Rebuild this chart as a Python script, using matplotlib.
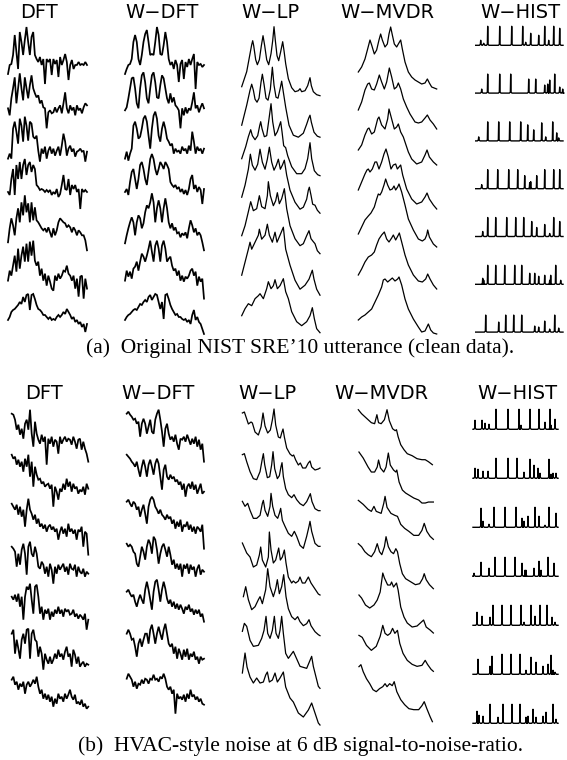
import matplotlib
matplotlib.use('Agg')
import matplotlib.pyplot as plt
import numpy as np

# ---------------- data (magnitudes in display units, one list per frame) ----------------
titles = ['DFT', 'W\u2212DFT', 'W\u2212LP', 'W\u2212MVDR', 'W\u2212HIST']
caption_a = '(a)  Original NIST SRE\u201910 utterance (clean data).'
caption_b = '(b)  HVAC-style noise at 6 dB signal-to-noise-ratio.'

# panel (a) DFT, uniformly sampled spectra
a_dft = [
    [3,12,13,22,42,25,8,45,35,22,37,50,35,22,40,45,22,18,15,20,12,18,-7,18,15,18,2,18,13,17,0,20,12,17,23,15,-3,12,17,8,12,12,15,12,13,12,15,12],
    [13,6,23,33,44,18,33,48,33,21,44,33,23,36,46,33,28,24,26,18,21,14,13,-7,9,11,8,9,14,9,13,16,8,18,29,13,8,16,11,14,6,16,11,13,8,14,18,16],
    [7,12,7,37,44,34,22,47,40,24,49,40,25,44,42,29,27,30,15,4,17,12,19,7,15,19,12,17,10,15,19,10,20,32,24,10,17,20,14,17,9,14,15,17,14,15,4,14],
    [18,15,31,41,15,45,31,48,31,45,51,35,45,48,38,45,41,25,23,20,21,20,18,20,18,20,15,18,16,21,13,16,25,35,21,20,31,15,25,21,25,18,21,1,21,18,20,18],
    [12,26,36,29,19,36,46,32,52,39,59,42,51,32,52,34,47,34,32,29,26,24,26,22,27,22,17,26,19,24,32,36,34,32,31,27,29,27,22,27,24,19,24,22,19,19,14,4],
    [18,28,23,33,43,27,50,30,43,52,37,55,37,57,43,58,38,33,37,23,30,18,25,13,23,17,10,8,23,18,25,20,23,28,27,33,25,23,18,23,10,20,2,22,23,0,20,10],
    [23,26,31,33,34,36,38,41,39,46,41,48,49,33,48,49,44,38,34,33,31,28,28,26,24,26,23,24,23,26,28,26,28,31,29,34,31,28,24,26,21,23,19,21,16,19,11,19],
]
a_wdft = [
    [3,8,12,13,18,35,42,35,18,12,22,35,43,47,35,22,23,22,35,50,42,23,22,32,45,35,18,12,15,8,17,12,-5,13,17,-2,15,10,18,12,18,23,-12,15,12,13,10,12],
    [11,14,23,33,43,44,33,18,13,33,46,49,39,23,18,33,46,49,39,24,23,36,46,43,33,23,18,28,19,24,16,14,11,-7,13,6,14,8,13,11,19,29,13,16,9,14,18,13],
    [7,14,5,12,17,40,44,37,27,29,37,47,50,44,30,17,37,50,54,47,30,24,37,44,37,27,24,20,22,12,17,14,15,12,19,15,17,12,20,15,34,24,12,19,15,17,12,17],
    [18,21,15,28,38,41,31,21,31,45,48,41,31,25,38,51,56,51,41,35,41,48,45,41,48,45,41,28,25,23,25,21,23,18,21,16,20,15,21,31,35,21,25,18,23,20,6,21],
    [11,19,26,32,37,32,19,32,39,36,26,31,42,49,46,52,61,52,32,46,54,46,32,46,56,46,32,26,31,24,27,21,22,17,21,19,22,16,26,34,29,22,26,19,22,19,12,4],
    [18,28,22,27,20,30,32,37,28,37,45,42,37,43,50,58,47,37,53,58,50,37,53,58,50,37,40,42,33,28,30,23,28,18,23,17,22,20,23,28,30,23,27,13,22,17,20,0],
    [23,26,28,29,31,33,34,33,36,39,38,41,43,41,46,48,43,46,49,48,41,34,41,24,48,49,44,38,34,31,28,29,26,26,24,23,24,21,23,19,28,33,23,26,21,19,14,9],
]
# panel (a) W-LP and W-MVDR envelopes: (frequency index 0..47, magnitude)
a_lp = [
    [(0,2),(3,17),(5,35),(6,44),(6.6,48),(7.2,43),(8.4,29),(9.4,24),(10.6,29),(11.8,43),(12.8,53),(13.8,43),(15,29),(16.2,24),(17.6,35),(18.6,48),(19.4,62),(20.2,48),(21.2,33),(22.2,28),(23.4,37),(24.6,47),(25.4,38),(26.4,25),(28,10),(30,1),(32,-3),(34,-2),(35,0),(36,-3),(38,-2),(39.6,3),(41,11),(41.8,3),(43,-3),(45,-6),(47,-7)],
    [(0,2),(3,22),(5,37),(6,43),(7,37),(8,28),(9.2,25),(10.4,29),(11.6,45),(12.4,53),(13.4,43),(14.6,29),(15.8,27),(17.2,38),(18.4,60),(19.4,42),(20.6,30),(21.8,29),(23,38),(24,46),(25,35),(26.4,20),(28.4,2),(31,-8),(34,-10),(37,-6),(39,3),(40.2,9),(41,12),(41.8,5),(43.4,-5),(45.4,-9),(47,-10)],
    [(0,7),(2.4,19),(4,29),(5.4,36),(6.4,30),(8,26),(9.6,30),(10.8,40),(11.4,44),(12.2,37),(13.6,29),(15,30),(16.4,47),(17.6,62),(18.6,44),(20,30),(21.4,34),(22.6,40),(23.4,44),(24.2,34),(25.2,20),(26.4,18),(27.6,10),(30,-1),(33,-8),(36,-8),(38,-3),(39.6,7),(41,23),(42,7),(43.6,-5),(45.6,-9),(47,-10)],
    [(0,7),(2,19),(4,35),(5.2,50),(6.4,39),(8,34),(9.6,40),(11,55),(12.4,42),(14,35),(15.4,45),(16.6,57),(18,42),(19.4,34),(20.8,39),(22,45),(23.2,35),(24.4,39),(25.6,44),(27,29),(29,14),(32,2),(35,-5),(37,-3),(39,5),(40,14),(40.6,17),(41.6,9),(42.6,0),(44,-1),(45.4,-6),(47,-9)],
    [(0,7),(2,17),(4,31),(5.4,41),(7,32),(9,34),(10.6,47),(12,36),(14,34),(15.4,47),(16,61),(17.2,47),(19,37),(20.4,42),(21.4,50),(22.6,39),(24,44),(25.6,54),(27,34),(29,17),(32,4),(35,-3),(37,-1),(39,7),(40.4,12),(41.6,4),(43,1),(44,-1),(45.4,-8),(47,-11)],
    [(0,6),(2,19),(4,32),(5,39),(6,32),(8,39),(10,46),(10.6,52),(12,42),(14,46),(15.4,57),(16.6,46),(18.4,39),(20,49),(21.2,39),(23,46),(25,54),(26.4,32),(29,16),(32,1),(35,-8),(38,-4),(40.4,2),(42.4,11),(43.4,2),(45,-8),(47,-14)],
    [(0,4),(2,11),(4,16),(6,14),(8,21),(10,24),(11,26),(13,21),(15,31),(16,38),(17.6,31),(19,34),(20,40),(21.4,31),(23,34),(25,41),(26.4,28),(28,21),(30,8),(33,-2),(36,-6),(39,-2),(41,4),(42.4,12),(43.6,1),(45,-9),(47,-13)],
]
a_mvdr = [
    [(0,0),(2,5),(4,13),(5.6,23),(7,32),(8,27),(9.6,18),(11,22),(12.4,32),(13.4,38),(14.4,32),(16,25),(17.4,28),(18.4,38),(19.4,45),(20.4,37),(21.6,28),(23,25),(24,28),(25.4,32),(26.4,23),(28,10),(30,0),(32,-5),(34,-8),(36,-10),(38,-12),(40,-11),(41.4,-7),(42.6,-11),(44,-15),(47,-17)],
    [(0,3),(2,11),(4,23),(5.6,29),(6.6,30),(8,24),(9.6,23),(11,29),(12.6,38),(14,31),(15.6,24),(17,31),(18.6,45),(20,36),(21.6,24),(23,26),(24,30),(25.4,24),(27,14),(29,6),(31,-1),(34,-9),(36,-10),(38,-9),(40,-5),(41.4,-2),(43,-7),(45,-11),(47,-16)],
    [(0,4),(2,9),(4,19),(5.6,25),(6.4,26),(8,20),(9.6,22),(11.6,35),(12.4,37),(14,29),(16,25),(17.6,35),(18.4,45),(20,35),(21.6,25),(23,27),(24,30),(25.4,22),(27,17),(28,12),(30,2),(32,-5),(35,-10),(38,-8),(40,-1),(41.2,4),(42.6,-3),(45,-8),(47,-11)],
    [(0,5),(2,13),(4,21),(5.2,25),(6,26),(7,23),(8.4,26),(10,33),(11,33),(12.4,26),(14,33),(15.4,41),(16.6,46),(18,38),(19.6,26),(21,30),(22.4,31),(23.4,26),(24.4,28),(25.4,30),(26.6,20),(29,6),(32,-4),(35,-9),(38,-7),(40,-2),(41.2,2),(42.6,-4),(45,-10),(47,-14)],
    [(0,2),(2,9),(4,16),(6,20),(7.6,23),(9.6,29),(11,37),(12,42),(13,41),(14,44),(15.4,51),(16.4,57),(17.6,51),(19,46),(20.4,47),(21.4,50),(22.4,46),(23.6,49),(24.4,52),(26,44),(28,31),(30,17),(33,6),(36,-3),(38.4,-5),(40,-3),(41,1),(41.6,6),(42.6,-1),(45,-8),(47,-11)],
    [(0,2),(2,8),(4,15),(6,20),(8,22),(9.6,25),(11,32),(12.4,38),(14,42),(15.6,45),(17,38),(18.4,35),(20,39),(21,42),(22.4,37),(24,42),(24.6,44),(26,35),(28,22),(30,12),(33,2),(36,-4),(38.4,-5),(40.4,-2),(41.6,3),(43,-2),(45,-8),(47,-12)],
    [(0,-2),(2,1),(4,3),(6,6),(8,9),(10,16),(12,23),(14,31),(15,38),(16,39),(17.6,36),(19,38),(20.4,40),(22,37),(23.6,39),(24.4,41),(26,33),(28,19),(30,9),(33,-1),(36,-9),(38,-14),(40,-13),(42,-6),(43.4,-12),(45,-15),(47,-16)],
]
# panel (a) W-HIST: spike bins and counts
a_hist_pos = [
    [5,8,12,24,36,47,50,55,63,69,73,78,84],
    [6,12,24,35,53,60,69,72,74,79,84,87],
    [3,12,23,34,45,52,58,66,70,77,81,83],
    [6,12,22,33,42,49,54,55,61,69,78,84],
    [7,12,20,31,40,48,56,61,69,74,78,84],
    [7,8,12,20,29,39,46,54,59,63,69,74,75,80,85],
    [10,23,30,38,46,59,63,69,74,79,83],
]
a_hist_cnt = [
    [5,2,19,19,19,19,3,12,10,19,5,19,17],
    [4,19,19,19,14,14,8,9,13,19,6,4],
    [4,19,19,19,19,16,11,18,4,19,8,3],
    [4,19,19,19,19,13,6,7,13,19,19,19],
    [5,19,19,19,19,19,15,9,12,3,19,15],
    [6,4,19,19,19,19,19,11,11,8,9,4,9,19,4],
    [17,10,17,17,17,6,5,11,3,17,4],
]

# panel (b)
b_dft = [
    [33,32,27,17,22,12,18,8,23,27,17,37,13,0,25,13,7,3,12,5,10,-18,8,3,10,0,7,5,-7,10,3,7,10,5,8,7,2,10,5,-2,7,8,-3,5,-2,-7,-15],
    [36,32,34,26,31,24,29,19,32,24,36,14,29,4,24,16,11,12,7,9,4,6,7,2,6,-16,4,-1,-9,2,-1,7,1,12,4,9,-1,7,2,4,-3,1,-1,4,-4,7,2],
    [31,28,25,30,20,28,18,25,8,25,36,25,21,15,20,11,16,8,11,6,10,3,8,10,5,8,3,6,-5,3,8,1,6,-2,11,3,6,1,5,-5,5,3,8,-12,3,1,-20],
    [32,30,27,12,25,14,29,35,25,4,32,37,25,22,32,25,12,10,17,14,5,12,2,15,9,-5,12,5,14,9,12,15,7,12,4,15,10,9,14,2,12,7,5,10,2,7,5],
    [26,23,28,21,29,16,26,3,26,36,33,39,23,9,36,38,26,9,16,3,13,9,14,3,11,6,13,9,16,9,13,6,14,11,13,8,9,13,6,9,4,8,6,3,9,-7,3],
    [33,37,13,27,18,8,27,33,23,37,38,8,33,37,27,25,10,20,13,-3,13,7,3,10,3,7,13,8,17,10,13,7,15,20,10,13,0,17,12,3,10,0,3,5,0,3,2],
    [31,34,26,29,21,27,24,29,17,26,29,24,27,31,27,34,24,17,21,12,17,11,16,9,14,4,12,7,17,12,14,9,17,12,16,21,14,11,16,7,9,6,11,4,7,2,4],
]
b_wdft = [
    [33,35,32,30,27,28,23,25,10,23,28,23,13,20,27,15,13,27,33,37,27,15,0,18,23,13,7,10,5,12,3,-3,8,7,10,5,12,7,2,8,3,10,0,7,-3,3,-15],
    [36,34,32,29,27,24,29,21,14,24,31,24,14,26,31,24,16,27,32,27,14,1,21,26,14,11,16,12,14,9,11,6,9,1,7,-6,4,7,2,9,1,6,-3,2,7,-3,-1],
    [33,35,31,28,33,31,25,28,18,25,30,21,11,28,35,38,35,28,25,21,25,20,18,15,20,16,18,11,15,6,13,8,15,3,10,8,13,5,10,3,8,1,8,6,3,10,-14],
    [35,32,34,32,27,25,15,12,22,32,27,19,32,39,35,25,42,39,29,15,25,32,35,29,22,32,24,14,19,10,15,9,15,2,14,10,15,5,14,9,12,2,10,14,4,9,7],
    [31,33,29,26,28,21,16,23,28,23,19,33,41,33,23,13,31,41,43,33,21,33,41,34,24,19,23,16,21,14,19,13,18,14,9,16,13,18,11,14,8,13,9,13,6,9,1],
    [33,37,33,27,28,20,10,23,28,20,27,33,33,23,37,42,33,23,33,40,33,27,37,43,33,23,20,23,13,20,8,18,13,7,17,10,18,7,13,10,15,7,10,3,10,7,8],
    [32,37,34,31,24,29,22,27,26,31,27,32,31,27,32,31,36,31,32,29,34,32,37,32,24,21,24,17,21,-3,17,12,14,11,16,9,17,12,21,14,16,11,14,9,12,7,6],
]
b_lp = [
    [(0.4,57),(1.6,58),(2.6,53),(4,46),(5.6,48),(6.4,47),(8,38),(10,35),(11.6,43),(12.8,57),(14,44),(15.6,37),(17.2,40),(18.4,50),(19.4,61),(20.4,45),(22,33),(23.2,32),(24,37),(24.8,41),(25.6,33),(27,22),(29,16),(30.4,14),(31.2,15),(32.4,10),(34,5),(35.2,7),(36.6,2),(38.4,2),(40,7),(41,9),(42,3),(44,0),(46,1),(47,2)],
    [(0.4,57),(1.6,58),(3,50),(5,40),(7,33),(9,32),(11,40),(12.4,53),(13,58),(13.8,47),(15.4,34),(16.8,35),(18,47),(18.8,60),(19.8,43),(21.4,33),(22.6,36),(23.6,45),(24.2,49),(25,35),(26.4,23),(28,17),(30,14),(31.4,17),(33,12),(35,8),(37,6),(39,10),(40.4,15),(41.2,18),(42.2,10),(44,3),(46,1),(47,1)],
    [(0.4,52),(2,47),(3.6,50),(5,43),(7,35),(9,35),(11,38),(12.4,50),(13,53),(14,43),(15.6,37),(17,47),(17.6,60),(18.6,47),(20,38),(21.6,35),(22.6,40),(23.4,45),(24.4,33),(26,27),(28,20),(30,17),(31.6,22),(33,17),(35,8),(37,5),(39,17),(40.4,27),(41,32),(42,22),(44,10),(46,7),(47,7)],
    [(0.4,52),(3,42),(5,38),(7,28),(9,30),(10.6,40),(11.4,48),(12.4,35),(14.4,28),(16,38),(16.6,63),(17.6,45),(19,32),(20.4,35),(22.2,47),(23.2,35),(24.4,38),(25.6,45),(26.6,32),(28,18),(30,12),(31,14),(32.4,12),(34,14),(35,18),(36.4,12),(38,12),(40,18),(41.6,12),(44,6),(46,1),(47,0)],
    [(1,40),(2.4,50),(4,37),(6,27),(8,30),(10,37),(11,40),(12.4,33),(14.4,47),(15.6,68),(17,50),(19,40),(20.4,48),(21.4,57),(22.6,43),(24,50),(25.2,62),(26.6,40),(28,28),(30,20),(32,17),(33.6,20),(35,15),(37,11),(39,13),(40.4,17),(41.6,11),(44,5),(46,2),(47,1)],
    [(0.4,47),(1.6,55),(3,52),(5,38),(7,32),(10,33),(12,40),(13.4,48),(14.6,62),(15.6,45),(17,40),(18.4,48),(19.6,62),(20.6,45),(22,40),(23,48),(24,62),(25,45),(26.4,25),(28,20),(31,27),(35,12),(39,10),(42,22),(43,12),(46,-8),(47,-10)],
    [(0.4,47),(2,67),(3.2,53),(5,43),(7,37),(9,42),(11,37),(13,38),(14.4,45),(15.4,48),(16.6,38),(18.4,40),(20,47),(21.4,38),(23,42),(25,48),(26.4,33),(29,22),(31,18),(34,7),(37,3),(40,10),(42,17),(44,7),(46,-3),(47,-5)],
]
b_mvdr = [
    [(0,57),(2,53),(4,50),(6,47),(8,44),(10,43),(11.4,52),(12.4,44),(14,43),(16,47),(17.6,57),(19,46),(21,38),(22.6,36),(23.4,37),(24.4,30),(26,22),(28,17),(30,13),(33,11),(36,8),(39,7),(41,7),(43,5),(45.4,2)],
    [(0.4,57),(3,51),(6,42),(8,37),(10,37),(11.6,42),(12.4,49),(13.6,41),(15.6,37),(17,42),(18.4,56),(19.6,44),(21.6,39),(23,37),(23.6,39),(25,27),(27,19),(29,16),(31,14),(34,11),(37,9),(39,6),(41,6),(43,7),(46,7)],
    [(0,51),(3,47),(6,42),(8,40),(9.6,45),(11,40),(14,38),(15.6,48),(16.4,55),(17.6,44),(20,38),(22.4,36),(24,35),(26,27),(28.4,23),(31,20),(34,16),(37,16),(39,21),(40.4,28),(42,20),(44,15),(46,12)],
    [(0,50),(2,47),(4,42),(6,39),(8,37),(10,42),(11.6,50),(13,42),(14.4,39),(16,47),(17,57),(18.4,47),(20,42),(21.6,40),(23,45),(24,42),(25.4,30),(27,20),(29,15),(32,12),(35,9),(37.6,10),(39.4,15),(40.4,20),(41.6,14),(43.6,9),(46,5)],
    [(0.4,41),(2,38),(4.4,31),(7,28),(9.6,31),(11.6,36),(13.4,44),(15,63),(16,58),(18,51),(19.6,51),(20.4,54),(21.6,49),(23.4,53),(24.4,46),(26,29),(28,19),(30,13),(33,9),(36,10),(38,13),(40,16),(41.6,9),(44,6),(46,3)],
    [(0.4,43),(2.4,41),(5,33),(8,28),(11,32),(13.4,42),(15,53),(16.4,45),(18,43),(19.6,45),(21,50),(22.4,45),(24,48),(25.4,35),(27.4,25),(30,18),(33,14),(36,12),(39,13),(41,18),(42.4,14),(44.6,9),(46,7)],
    [(0.4,54),(1.6,56),(3,49),(5,42),(7,37),(9,31),(11,29),(13,32),(15,34),(16.4,37),(17.6,34),(19.2,37),(20.8,35),(22,39),(23.6,29),(26,21),(28.4,16),(31,12),(34,11),(37,11),(39,15),(40.4,19),(42,12),(44,4),(45.4,-1)],
]
b_hist_pos = [
    [2,9,12,16,23,35,46,48,57,66,72,77,78,82],
    [2,5,10,15,23,35,44,51,57,61,65,67,76,78,80,83],
    [8,10,16,21,32,43,49,51,55,62,66,72,76,83],
    [1,8,16,22,32,42,49,52,53,61,66,68,75,81],
    [4,9,17,20,29,38,48,51,58,62,67,74,79,82],
    [5,17,19,29,38,47,53,58,63,70,75,78,80,82],
    [4,6,10,17,25,30,39,47,53,55,60,63,70,73,80,83],
]
b_hist_cnt = [
    [9,9,6,5,20,20,20,4,20,20,7,20,4,10],
    [10,9,7,7,20,20,20,6,19,13,10,5,19,4,5,5],
    [19,6,3,20,20,20,9,6,11,20,11,2,20,14],
    [3,14,8,19,19,19,13,6,6,8,15,6,19,13],
    [13,9,8,20,20,20,20,3,20,9,20,20,8,3],
    [15,8,18,20,20,20,4,17,12,8,10,19,4,2],
    [12,8,7,19,6,19,19,19,6,7,14,6,7,11,19,4],
]

# ---------------- layout (pixels) ----------------
W, H = 567, 760
fig = plt.figure(figsize=(W / 100, H / 100), dpi=100)
fig.patch.set_facecolor('white')


def make_ax(x0, x1, y0, spacing, xmax):
    """Axes whose y data unit equals one pixel; y0 = pixel row of first-frame zero."""
    ptop, pbot = y0 - 80, y0 + 6 * spacing + 40
    ax = fig.add_axes([x0 / W, 1 - pbot / H, (x1 - x0) / W, (pbot - ptop) / H])
    ax.set_xlim(0, xmax)
    ax.set_ylim(y0 - pbot, y0 - ptop)
    ax.set_axis_off()
    return ax


def draw_uniform(ax, rows, spacing, lw):
    for r, row in enumerate(rows):
        v = np.asarray(row, dtype=float)
        ax.plot(np.linspace(0, 47, len(v)), v - r * spacing, color='black',
                lw=lw, solid_joinstyle='miter', clip_on=False)


def draw_knots(ax, rows, spacing, lw):
    for r, row in enumerate(rows):
        xs, ys = zip(*row)
        ax.plot(xs, np.asarray(ys) - r * spacing, color='black', lw=lw,
                clip_on=False)


def draw_hist(ax, pos_rows, cnt_rows, spacing, width):
    for r, (pos, cnt) in enumerate(zip(pos_rows, cnt_rows)):
        px, py = [0.0], [0.0]
        for p, c in sorted(zip(pos, cnt)):
            px += [p - 1.3, p - 0.35, p, p + 0.35, p + 1.3]
            py += [0.0, 1.0, c, 1.0, 0.0]
        px.append(width)
        py.append(0.0)
        ax.plot(px, np.asarray(py) - r * spacing, color='black', lw=1.0,
                clip_on=False)


# panel (a)
ax = make_ax(8, 87, 77, 44.33, 47);        draw_uniform(ax, a_dft, 44.33, 1.25)
ax = make_ax(125, 204, 77, 44.33, 47);     draw_uniform(ax, a_wdft, 44.33, 1.25)
ax = make_ax(241.7, 320, 88.7, 38.5, 47);  draw_knots(ax, a_lp, 38.5, 0.9)
ax = make_ax(358.3, 436.7, 72, 41, 47);    draw_knots(ax, a_mvdr, 41, 0.9)
ax = make_ax(475.7, 563, 45.3, 47.8, 87.3); draw_hist(ax, a_hist_pos, a_hist_cnt, 47.8, 87.3)

# panel (b)
ax = make_ax(11.7, 88.3, 446.7, 44, 47);   draw_uniform(ax, b_dft, 44, 1.25)
ax = make_ax(126.7, 204, 446.7, 44, 47);   draw_uniform(ax, b_wdft, 44, 1.25)
ax = make_ax(241.7, 320, 470, 41.67, 47);  draw_knots(ax, b_lp, 41.67, 0.9)
ax = make_ax(358.3, 435, 466.7, 42.33, 47); draw_knots(ax, b_mvdr, 42.33, 0.9)
ax = make_ax(473, 558, 429.3, 49, 85);     draw_hist(ax, b_hist_pos, b_hist_cnt, 49, 85)

# titles
title_x_a = [38.5, 162, 270, 387.5, 520]
title_x_b = [44, 158, 267, 381, 517]
for t, xa, xb in zip(titles, title_x_a, title_x_b):
    fig.text(xa / W, 1 - 17.5 / H, t, ha='center', va='baseline',
             fontsize=14, family='DejaVu Sans')
    fig.text(xb / W, 1 - 398.5 / H, t, ha='center', va='baseline',
             fontsize=14, family='DejaVu Sans')

fig.text(86 / W, 1 - 353 / H, caption_a, ha='left', va='baseline',
         fontsize=15.5, family='Liberation Serif')
fig.text(78 / W, 1 - 751.5 / H, caption_b, ha='left', va='baseline',
         fontsize=15.5, family='Liberation Serif')

fig.savefig('out.png', dpi=100, facecolor='white')
